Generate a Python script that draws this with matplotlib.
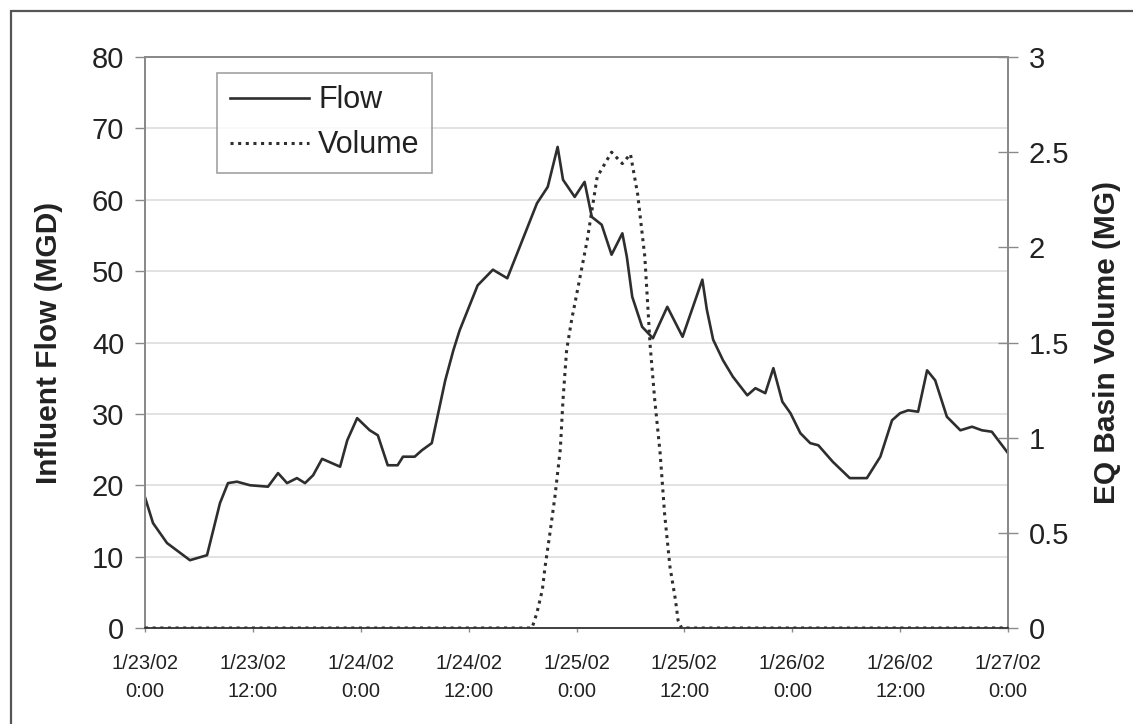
import matplotlib
matplotlib.use("Agg")
import matplotlib.pyplot as plt
from matplotlib.patches import Rectangle

plt.rcParams['font.family'] = ['Liberation Sans', 'DejaVu Sans']

# Hours elapsed since 1/23/02 0:00 and influent flow (MGD)
flow_hours = [0.0, 0.89, 2.45, 5.0, 6.9, 8.34, 9.23, 10.23, 11.68, 13.68, 14.8, 15.8,
              16.9, 17.8, 18.7, 19.7, 21.7, 22.5, 23.6, 25.0, 25.9, 27.0, 28.1, 28.7,
              30.0, 30.8, 31.9, 33.4, 34.3, 35.0, 37.0, 38.7, 40.3, 42.0, 43.6, 44.8,
              45.9, 46.5, 47.8, 48.9, 49.7, 50.8, 51.9, 53.1, 53.6, 54.2, 55.3, 56.5,
              58.1, 59.8, 62.0, 62.5, 63.2, 64.3, 65.4, 67.0, 67.9, 69.0, 69.9, 70.9,
              71.8, 72.9, 74.0, 74.9, 76.5, 78.4, 80.3, 81.8, 83.1, 84.0, 84.9, 86.0,
              87.0, 87.9, 89.2, 90.7, 92.0, 93.1, 94.2, 96.0]
flow_mgd = [18.3, 14.7, 11.9, 9.5, 10.2, 17.5, 20.3, 20.5, 20.0, 19.8, 21.7, 20.3,
            21.0, 20.3, 21.4, 23.7, 22.6, 26.3, 29.4, 27.7, 27.0, 22.8, 22.8, 24.0,
            24.0, 24.9, 25.9, 34.7, 38.9, 41.7, 48.0, 50.2, 49.0, 54.4, 59.5, 61.8,
            67.4, 62.8, 60.4, 62.5, 57.6, 56.5, 52.3, 55.3, 52.0, 46.4, 42.2, 40.6,
            45.0, 40.8, 48.8, 44.6, 40.4, 37.5, 35.2, 32.6, 33.6, 32.9, 36.4, 31.7,
            30.1, 27.3, 25.9, 25.6, 23.3, 21.0, 21.0, 24.0, 29.1, 30.1, 30.5, 30.3,
            36.1, 34.7, 29.6, 27.7, 28.2, 27.7, 27.5, 24.5]

# EQ basin stored volume (MG)
vol_hours = [0.0, 43.05, 43.6, 44.2, 44.5, 45.05, 45.6, 46.2, 46.5, 46.9, 47.5, 47.8,
             49.2, 50.3, 51.9, 53.1, 54.0, 54.8, 55.6, 56.2, 56.7, 57.3, 57.8, 58.4,
             59.0, 59.3, 59.7, 96.0]
vol_mg = [0.0, 0.0, 0.08, 0.20, 0.32, 0.50, 0.69, 0.94, 1.20, 1.46, 1.63, 1.70,
          2.04, 2.37, 2.50, 2.44, 2.49, 2.28, 1.95, 1.48, 1.20, 0.92, 0.60, 0.32,
          0.15, 0.04, 0.0, 0.0]

tick_hours = [0, 12, 24, 36, 48, 60, 72, 84, 96]
tick_labels = ['1/23/02\n0:00', '1/23/02\n12:00', '1/24/02\n0:00', '1/24/02\n12:00',
               '1/25/02\n0:00', '1/25/02\n12:00', '1/26/02\n0:00', '1/26/02\n12:00',
               '1/27/02\n0:00']

W, H = 1133, 724
fig = plt.figure(figsize=(W / 100, H / 100), dpi=100)
ax = fig.add_axes([145 / W, 1 - 628 / H, (1008 - 145) / W, (628 - 57) / H])
ax2 = ax.twinx()

# Outer frame (only the top and left edges fall inside the image)
fig.add_artist(Rectangle((11 / W, -0.2), 1.5, (H - 11) / H + 0.2,
                         transform=fig.transFigure, fill=False,
                         edgecolor='#555555', linewidth=1.6))

line_col = '#2e2e2e'
ax.plot(flow_hours, flow_mgd, color=line_col, linewidth=1.9, solid_joinstyle='round',
        label='Flow', zorder=3)
ax2.plot(vol_hours, vol_mg, color=line_col, linewidth=2.2,
         linestyle=(0, (1, 1.5)), label='Volume', zorder=3)

ax.set_xlim(0, 96)
ax.set_ylim(0, 80)
ax2.set_ylim(0, 3)
ax.set_yticks(range(0, 81, 10))
ax2.set_yticks([0, 0.5, 1, 1.5, 2, 2.5, 3])
ax2.set_yticklabels(['0', '0.5', '1', '1.5', '2', '2.5', '3'])
ax.set_xticks(tick_hours)
ax.set_xticklabels(tick_labels, fontsize=14.5, color='#222222', linespacing=1.55)

ax.yaxis.grid(True, color='#e2e2e2', linewidth=1.4)
ax.set_axisbelow(True)

for a in (ax, ax2):
    for s in ('top', 'left', 'right'):
        a.spines[s].set_color('#8a8a8a')
        a.spines[s].set_linewidth(1.4)
    a.spines['bottom'].set_color('#444444')
    a.spines['bottom'].set_linewidth(1.4)

ax.tick_params(axis='y', direction='out', length=7, width=1.0, color='#8a8a8a',
               labelsize=21, labelcolor='#222222', pad=8)
ax.tick_params(axis='x', direction='out', length=3, width=1.0, color='#8a8a8a', pad=16)
ax2.tick_params(axis='y', direction='inout', length=14, width=1.0, color='#8a8a8a',
                labelsize=21, labelcolor='#222222', pad=8)

ax.set_ylabel('Influent Flow (MGD)', fontsize=21.5, fontweight='bold', labelpad=21,
              color='#222222')
ax2.set_ylabel('EQ Basin Volume (MG)', fontsize=21.5, fontweight='bold', labelpad=17,
               color='#222222')

h1, l1 = ax.get_legend_handles_labels()
h2, l2 = ax2.get_legend_handles_labels()
leg = ax2.legend(h1 + h2, l1 + l2, loc='upper left', bbox_to_anchor=(0.084, 0.972),
                 fontsize=22, frameon=True, fancybox=False, handlelength=2.6,
                 handletextpad=0.3, borderpad=0.4, labelspacing=0.5,
                 borderaxespad=0)
leg.get_frame().set_edgecolor('#8a8a8a')
leg.get_frame().set_linewidth(1.2)
for t in leg.get_texts():
    t.set_color('#222222')

fig.savefig('out.png', dpi=100, facecolor='white')
